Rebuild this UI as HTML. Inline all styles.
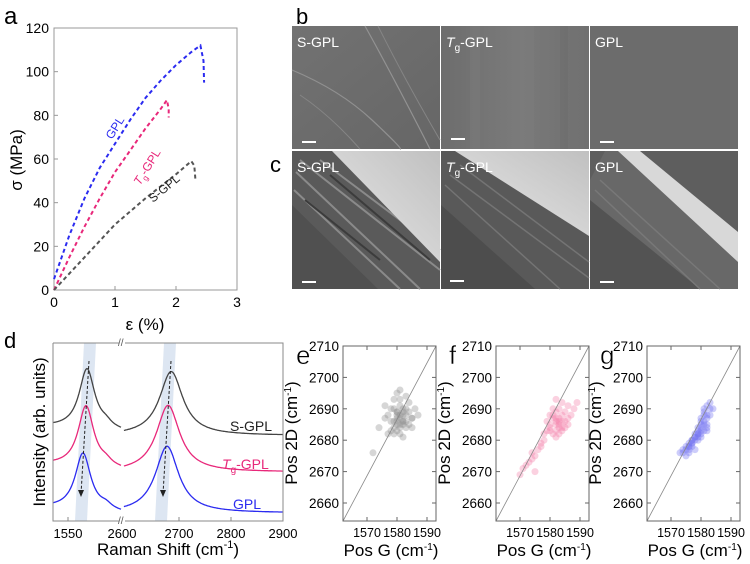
<!DOCTYPE html>
<html><head><meta charset="utf-8">
<style>
html,body{margin:0;padding:0;background:#fff;}
svg{display:block;font-family:"Liberation Sans",Arial,sans-serif;}
</style></head>
<body>
<svg id="fig" width="750" height="564" viewBox="0 0 750 564" xmlns="http://www.w3.org/2000/svg">
<defs>
  <linearGradient id="top1" x1="0" y1="0" x2="1" y2="1"><stop offset="0" stop-color="#727272"/><stop offset="1" stop-color="#666"/></linearGradient>
  <linearGradient id="top2" x1="0" y1="0" x2="1" y2="0"><stop offset="0" stop-color="#6d6d6d"/><stop offset="0.5" stop-color="#7a7a7a"/><stop offset="1" stop-color="#707070"/></linearGradient>
  <linearGradient id="band" x1="0" y1="1" x2="1" y2="0"><stop offset="0" stop-color="#4a4a4a"/><stop offset="0.5" stop-color="#6a6a6a"/><stop offset="1" stop-color="#555"/></linearGradient>
  <linearGradient id="light" x1="0" y1="1" x2="1" y2="0"><stop offset="0" stop-color="#e8e8e8"/><stop offset="1" stop-color="#c0c0c0"/></linearGradient>
  <linearGradient id="dark" x1="0" y1="0" x2="1" y2="1"><stop offset="0" stop-color="#4a4a4a"/><stop offset="1" stop-color="#666"/></linearGradient>
</defs>

<!-- Panel a -->
<g id="panel-a">
  <text x="4" y="24" font-size="24">a</text>
  <rect x="54" y="28" width="183" height="262" fill="none" stroke="#999" stroke-width="1"/>
  <g id="a-axes"></g>
  <g id="a-lines"></g>
  <text x="145" y="330" font-size="17" text-anchor="middle">ε (%)</text>
  <text transform="translate(22,160) rotate(-90)" font-size="17" text-anchor="middle">σ (MPa)</text>
  <text transform="translate(112,140) rotate(-58)" font-size="12" fill="#2b2bf0">GPL</text>
  <text transform="translate(140,186) rotate(-58)" font-size="12" fill="#e8287a"><tspan font-style="italic">T</tspan><tspan font-size="8" dy="3">g</tspan><tspan dy="-3">-GPL</tspan></text>
  <text transform="translate(153,203) rotate(-40)" font-size="12" fill="#222">S-GPL</text>
</g>

<!-- Panels b, c: SEM images -->
<g id="panel-bc">
  <text x="296" y="24" font-size="22">b</text>
  <text x="270" y="172" font-size="22">c</text>
  <g>
    <rect x="292" y="26" width="148" height="123" fill="url(#top1)"/>
    <path d="M292 70 Q340 90 372 120 T400 149" stroke="#909090" stroke-width="1.2" fill="none"/>
    <path d="M365 26 Q395 80 430 149" stroke="#929292" stroke-width="1.2" fill="none"/>
    <path d="M378 26 Q405 80 440 140" stroke="#858585" stroke-width="1" fill="none"/>
    <path d="M300 95 Q330 115 360 149" stroke="#858585" stroke-width="1" fill="none"/>
    <rect x="302" y="141" width="14" height="2" fill="#fff"/>
    <text x="297" y="47" font-size="14" fill="#fff">S-GPL</text>
  </g>
  <g>
    <rect x="441" y="26" width="148" height="123" fill="url(#top2)"/>
    <rect x="470" y="26" width="10" height="123" fill="#7c7c7c" opacity="0.4"/>
    <rect x="520" y="26" width="14" height="123" fill="#808080" opacity="0.3"/>
    <rect x="560" y="26" width="8" height="123" fill="#666" opacity="0.3"/>
    <rect x="451" y="138" width="14" height="2" fill="#fff"/>
    <text x="446" y="47" font-size="14" fill="#fff"><tspan font-style="italic">T</tspan><tspan font-size="10" dy="4">g</tspan><tspan dy="-4">-GPL</tspan></text>
  </g>
  <g>
    <rect x="590" y="26" width="148" height="123" fill="#6c6c6c"/>
    <rect x="600" y="141" width="14" height="2" fill="#fff"/>
    <text x="595" y="47" font-size="14" fill="#fff">GPL</text>
  </g>
  <g>
    <rect x="292" y="151" width="148" height="138" fill="#5a5a5a"/>
    <polygon points="292,205 292,289 378,289" fill="#505050"/>
    <path d="M296 172 L420 289 M294 190 L400 289 M300 160 L440 270 M320 160 L440 250" stroke="#8a8a8a" stroke-width="2" fill="none"/>
    <path d="M305 200 L380 260 M330 175 L430 260" stroke="#3c3c3c" stroke-width="2" fill="none"/>
    <polygon points="332,151 440,151 440,262" fill="url(#light)"/>
    <rect x="302" y="281" width="14" height="2" fill="#fff"/>
    <text x="297" y="172" font-size="14" fill="#fff">S-GPL</text>
  </g>
  <g>
    <rect x="441" y="151" width="148" height="138" fill="#595959"/>
    <polygon points="441,205 441,289 535,289" fill="#4d4d4d"/>
    <path d="M445 185 L560 289 M450 175 L589 278 M460 165 L589 262" stroke="#747474" stroke-width="1.5" fill="none"/>
    <polygon points="455,151 589,151 589,236" fill="url(#light)"/>
    <rect x="450" y="280" width="14" height="2" fill="#fff"/>
    <text x="446" y="172" font-size="14" fill="#fff"><tspan font-style="italic">T</tspan><tspan font-size="10" dy="4">g</tspan><tspan dy="-4">-GPL</tspan></text>
  </g>
  <g>
    <rect x="590" y="151" width="148" height="138" fill="#5e5e5e"/>
    <polygon points="590,195 590,289 700,289" fill="#535353"/>
    <polygon points="590,180 590,200 700,289 738,289 738,262 630,151 605,151" fill="#686868"/>
    <polygon points="618,151 640,151 738,232 738,262" fill="#d8d8d8"/>
    <path d="M595 190 L700 289 M600 180 L720 289" stroke="#787878" stroke-width="1.5" fill="none"/>
    <rect x="600" y="281" width="14" height="2" fill="#fff"/>
    <text x="595" y="172" font-size="14" fill="#fff">GPL</text>
  </g>
</g>

<!-- Panel d -->
<g id="panel-d">
  <text x="4" y="348" font-size="22">d</text>
  <polygon points="84,343 96,343 87,521 75,521" fill="#dde6f2"/>
  <polygon points="164,343 176,343 167,521 155,521" fill="#dde6f2"/>
  <g id="d-lines"></g>
  <line x1="89" y1="361" x2="81" y2="494" stroke="#222" stroke-dasharray="3,2"/>
  <polygon points="78,490 84,490 81,497" fill="#222"/>
  <line x1="171" y1="361" x2="163" y2="494" stroke="#222" stroke-dasharray="3,2"/>
  <polygon points="160,490 166,490 163,497" fill="#222"/>
  <path d="M53 343 V521 H119 M125 521 H283 V343 H125 M119 343 H53" fill="none" stroke="#888"/>
  <text x="118" y="524" font-size="10" fill="#555">//</text>
  <text x="118" y="346" font-size="10" fill="#555">//</text>
  <g id="d-axes"></g>
  <text x="230" y="431" font-size="14" fill="#222">S-GPL</text>
  <text x="222" y="469" font-size="14" fill="#e8287a"><tspan font-style="italic">T</tspan><tspan font-size="10" dy="4">g</tspan><tspan dy="-4">-GPL</tspan></text>
  <text x="233" y="509" font-size="14" fill="#2b2bf0">GPL</text>
  <text x="168" y="555" font-size="17" text-anchor="middle">Raman Shift (cm<tspan font-size="11" dy="-7">-1</tspan><tspan dy="7">)</tspan></text>
  <text transform="translate(45,432) rotate(-90)" font-size="17" text-anchor="middle">Intensity (arb. units)</text>
</g>

<g id="scatters"></g>

<script>
const NS = "http://www.w3.org/2000/svg";
function mk(tag, attrs, parent, txt) {
  const e = document.createElementNS(NS, tag);
  for (const k in attrs) e.setAttribute(k, attrs[k]);
  if (txt !== undefined) e.textContent = txt;
  parent.appendChild(e);
  return e;
}
function unitLabel(parent, base) {
  mk("tspan", {}, parent, base + " (cm");
  mk("tspan", {"font-size": 10, dy: -6}, parent, "-1");
  mk("tspan", {dy: 6}, parent, ")");
}

/* ---------- Panel a data ---------- */
const aXTicks = [0, 1, 2, 3];
const aYTicks = [0, 20, 40, 60, 80, 100, 120];
const aNames = ["GPL", "Tg-GPL", "S-GPL"];
const aColors = ["#2b2bf0", "#e8287a", "#555555"];
const gplStrain = [0, 0.25, 0.5, 0.75, 1, 1.25, 1.5, 1.75, 2, 2.25, 2.4, 2.45, 2.46];
const gplStress = [5, 25, 42, 56, 67, 78, 88, 96, 103, 109, 112, 105, 95];
const tgStrain = [0, 0.25, 0.5, 0.75, 1, 1.25, 1.5, 1.75, 1.85, 1.88, 1.88];
const tgStress = [0, 15, 29, 42, 54, 64, 74, 83, 87, 83, 79];
const sStrain = [0, 0.5, 1, 1.5, 2, 2.25, 2.3, 2.32];
const sStress = [0, 15, 30, 42, 53, 59, 57, 50];

const ax = v => 54 + v / 3 * 183;
const ay = v => 290 - v / 120 * 262;
(function () {
  const g = document.getElementById("a-axes");
  aXTicks.forEach(t => {
    mk("line", {x1: ax(t), x2: ax(t), y1: 290, y2: 286, stroke: "#999"}, g);
    const tx = mk("text", {x: ax(t), y: 307, "font-size": 14, "text-anchor": "middle"}, g, t);
    
    
  });
  aYTicks.forEach(t => {
    mk("line", {x1: 54, x2: 58, y1: ay(t), y2: ay(t), stroke: "#999"}, g);
    const tx = mk("text", {x: 49, y: ay(t) + 5, "font-size": 14, "text-anchor": "end"}, g, t);
    
    
  });
  const lg = document.getElementById("a-lines");
  [[gplStrain, gplStress], [tgStrain, tgStress], [sStrain, sStress]].forEach((s, i) => {
    const d = s[0].map((x, j) => (j ? "L" : "M") + ax(x).toFixed(1) + " " + ay(s[1][j]).toFixed(1)).join(" ");
    const p = mk("path", {d: d, fill: "none", stroke: aColors[i], "stroke-width": 2, "stroke-dasharray": "4,3"}, lg);
    
    
  });
})();

/* ---------- Panel d data ---------- */
const dLeftTicks = [1550];
const dRightTicks = [2700, 2800, 2900];
const dSeries = ["S-GPL", "Tg-GPL", "GPL"];
const dColors = ["#444444", "#e8287a", "#2b2bf0"];
const gPeakPos = [1588, 1586, 1580];
const gPeakHeight = [34, 34.5, 32];
const gBaseline = [52.8, 31.5, 7.3];
const shoulderHeight = [2.5, 2.5, 2.5];
const dPeakPos = [2685, 2679, 2677];
const dPeakHeight = [36, 37.5, 37.5];
const dBaseline = [48, 27.5, 4.5];

const dxL = v => 53 + (v - 1520) * 0.5;
const dxR = v => 127 + (v - 2600) * 0.52;
const dy = v => 521 - v * 1.78;
const lor = (x, c, w) => 1 / (1 + ((x - c) / w) * ((x - c) / w));
(function () {
  const g = document.getElementById("d-axes");
  dLeftTicks.forEach(t => {
    mk("line", {x1: dxL(t), x2: dxL(t), y1: 521, y2: 517, stroke: "#888"}, g);
    const tx = mk("text", {x: dxL(t), y: 538, "font-size": 13, "text-anchor": "middle"}, g, t);
    
    
  });
  const t26 = mk("text", {x: 122, y: 538, "font-size": 13, "text-anchor": "middle"}, g, "2600");
  
  
  dRightTicks.forEach(t => {
    mk("line", {x1: dxR(t), x2: dxR(t), y1: 521, y2: 517, stroke: "#888"}, g);
    const tx = mk("text", {x: dxR(t), y: 538, "font-size": 13, "text-anchor": "middle"}, g, t);
    
    
  });
  const lg = document.getElementById("d-lines");
  dSeries.forEach((n, i) => {
    let dl = "";
    for (let v = 1520; v <= 1656; v += 1) {
      const I = gBaseline[i] + gPeakHeight[i] * lor(v, gPeakPos[i], 19) + shoulderHeight[i] * lor(v, 1626, 14) - 3 * (v - 1520) / 136;
      dl += (v === 1520 ? "M" : "L") + dxL(v).toFixed(1) + " " + dy(I).toFixed(1) + " ";
    }
    const p1 = mk("path", {d: dl, fill: "none", stroke: dColors[i], "stroke-width": 1.3}, lg);
    
    
    let dr = "";
    for (let v = 2594; v <= 2900; v += 2) {
      const I = dBaseline[i] + dPeakHeight[i] * lor(v, dPeakPos[i], 27);
      dr += (v === 2594 ? "M" : "L") + dxR(v).toFixed(1) + " " + dy(I).toFixed(1) + " ";
    }
    const p2 = mk("path", {d: dr, fill: "none", stroke: dColors[i], "stroke-width": 1.3}, lg);
    
    
  });
})();

/* ---------- Panels e, f, g: scatter data ---------- */
const posGTicks = [1570, 1580, 1590];
const pos2DTicks = [2660, 2670, 2680, 2690, 2700, 2710];
const eX = [1581,1580,1582,1579,1583,1581,1578,1584,1580,1582,1577,1585,1581,1579,1583,1580,1582,1578,1584,1581,1576,1586,1580,1582,1579,1583,1581,1580,1582,1577,1585,1581,1579,1583,1574,1572,1587,1580,1582,1578,1584,1581,1580,1583,1579,1582,1576,1585,1581,1580];
const eY = [2687,2689,2686,2684,2688,2691,2686,2689,2683,2685,2688,2687,2693,2690,2684,2686,2690,2683,2692,2682,2687,2690,2695,2681,2693,2686,2688,2685,2689,2682,2684,2696,2686,2694,2684,2676,2688,2687,2688,2690,2685,2684,2688,2690,2682,2686,2691,2687,2685,2689];
const fX = [1582,1583,1581,1584,1582,1580,1585,1583,1581,1586,1582,1579,1584,1587,1583,1580,1582,1585,1578,1577,1576,1575,1574,1573,1572,1571,1575,1577,1581,1584,1583,1582,1580,1586,1588,1589,1584,1582,1579,1583,1585,1581,1570,1574,1578,1582,1586,1583,1580,1584];
const fY = [2686,2684,2687,2688,2683,2685,2686,2690,2682,2687,2689,2683,2692,2688,2686,2688,2681,2684,2680,2678,2677,2675,2674,2673,2672,2671,2670,2679,2690,2683,2685,2687,2684,2691,2690,2692,2686,2685,2686,2682,2689,2688,2669,2676,2682,2693,2685,2687,2683,2684];
const gX = [1574,1575,1576,1577,1578,1579,1580,1581,1582,1575,1576,1577,1578,1579,1580,1581,1582,1583,1574,1576,1577,1578,1579,1580,1581,1582,1583,1575,1576,1578,1579,1580,1581,1582,1573,1577,1579,1580,1581,1582,1576,1578,1580,1581,1583,1577,1579,1580,1582,1584];
const gY = [2676,2677,2678,2679,2681,2682,2684,2686,2688,2675,2676,2678,2680,2681,2683,2685,2687,2690,2677,2679,2680,2682,2684,2686,2688,2691,2692,2678,2677,2677,2680,2682,2683,2684,2676,2680,2683,2687,2690,2685,2678,2681,2685,2689,2688,2679,2682,2681,2683,2690];
const scatterNames = ["e", "f", "g"];
const scatterColors = ["#8a8a8a", "#f47aa6", "#7070f0"];
const scatterX = [eX, fX, gX];
const scatterY = [eY, fY, gY];
const scatterLeft = [343, 496, 647];

(function () {
  const root = document.getElementById("scatters");
  scatterNames.forEach((nm, i) => {
    const L = scatterLeft[i];
    const sx = v => L + (v - 1562) * 3;
    const sy = v => 503 - (v - 2660) * 3.14;
    const g = mk("g", {}, root);
    
    
    posGTicks.forEach(t => {
      mk("line", {x1: sx(t), x2: sx(t), y1: 521, y2: 517, stroke: "#666"}, g);
      mk("line", {x1: sx(t), x2: sx(t), y1: 346, y2: 350, stroke: "#666"}, g);
      const tx = mk("text", {x: sx(t), y: 537, "font-size": 12.5, "text-anchor": "middle"}, g, t);
      
      
    });
    pos2DTicks.forEach(t => {
      mk("line", {x1: L, x2: L + 4, y1: sy(t), y2: sy(t), stroke: "#666"}, g);
      mk("line", {x1: L + 93, x2: L + 89, y1: sy(t), y2: sy(t), stroke: "#666"}, g);
      const tx = mk("text", {x: L - 4, y: sy(t) + 5, "font-size": 13.5, "text-anchor": "end"}, g, t);
      
      
    });
    const cg = mk("g", {}, g);
    scatterX[i].forEach((x, j) => {
      const c = mk("circle", {cx: sx(x).toFixed(1), cy: sy(scatterY[i][j]).toFixed(1), r: 3.5, fill: scatterColors[i], "fill-opacity": 0.35}, cg);
      
      
    });
    const ref = mk("line", {x1: L, y1: 521, x2: L + 93, y2: 346, stroke: "#888", "stroke-width": 0.8}, g);
    
    
    const fr = mk("rect", {x: L, y: 346, width: 93, height: 175, fill: "none", stroke: "#666"}, g);
    
    
    const yt = mk("text", {transform: "translate(" + (L - 46) + ",433) rotate(-90)", "font-size": 17, "text-anchor": "middle"}, g);
    unitLabel(yt, "Pos 2D");
    
    
    const xt = mk("text", {x: L + 48, y: 556, "font-size": 17, "text-anchor": "middle"}, g);
    unitLabel(xt, "Pos G");
    
    
    const lbl = mk("text", {x: L - 47, y: 364, "font-size": 26, fill: "#000", stroke: "#fff", "stroke-width": 0.5}, g, nm);
    
    
  });
})();
</script>
</svg>
</body></html>
